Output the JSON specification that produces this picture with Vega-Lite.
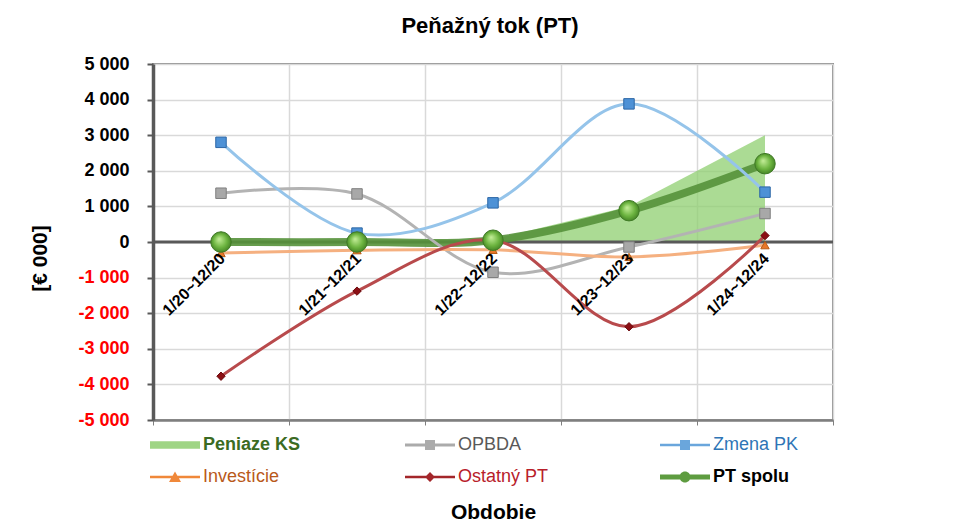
{
  "$schema": "https://vega.github.io/schema/vega-lite/v6.json",
  "autosize": {"type": "none"},
  "padding": {"left": 153, "top": 64, "right": 129, "bottom": 112},
  "width": 680,
  "height": 356,
  "config": {
    "font": "Liberation Sans",
    "view": {"stroke": "#8c8c8c", "strokeWidth": 2}
  },
  "title": {
    "text": "Peňažný tok (PT)",
    "fontSize": 22,
    "fontWeight": "bold",
    "color": "#000000",
    "anchor": "middle",
    "baseline": "middle",
    "offset": 7,
    "dx": -3
  },
  "datasets": {
    "cf": [
      {"period": "1/20~12/20", "series": "Peniaze KS", "value": 20},
      {"period": "1/21~12/21", "series": "Peniaze KS", "value": 20},
      {"period": "1/22~12/22", "series": "Peniaze KS", "value": 70},
      {"period": "1/23~12/23", "series": "Peniaze KS", "value": 1000},
      {"period": "1/24~12/24", "series": "Peniaze KS", "value": 3000},
      {"period": "1/20~12/20", "series": "OPBDA", "value": 1370},
      {"period": "1/21~12/21", "series": "OPBDA", "value": 1350},
      {"period": "1/22~12/22", "series": "OPBDA", "value": -850},
      {"period": "1/23~12/23", "series": "OPBDA", "value": -140},
      {"period": "1/24~12/24", "series": "OPBDA", "value": 800},
      {"period": "1/20~12/20", "series": "Zmena PK", "value": 2800},
      {"period": "1/21~12/21", "series": "Zmena PK", "value": 250},
      {"period": "1/22~12/22", "series": "Zmena PK", "value": 1100},
      {"period": "1/23~12/23", "series": "Zmena PK", "value": 3880},
      {"period": "1/24~12/24", "series": "Zmena PK", "value": 1400},
      {"period": "1/20~12/20", "series": "Investície", "value": -310},
      {"period": "1/21~12/21", "series": "Investície", "value": -230},
      {"period": "1/22~12/22", "series": "Investície", "value": -220},
      {"period": "1/23~12/23", "series": "Investície", "value": -420},
      {"period": "1/24~12/24", "series": "Investície", "value": -90},
      {"period": "1/20~12/20", "series": "Ostatný PT", "value": -3770},
      {"period": "1/21~12/21", "series": "Ostatný PT", "value": -1380},
      {"period": "1/22~12/22", "series": "Ostatný PT", "value": 50},
      {"period": "1/23~12/23", "series": "Ostatný PT", "value": -2380},
      {"period": "1/24~12/24", "series": "Ostatný PT", "value": 180},
      {"period": "1/20~12/20", "series": "PT spolu", "value": 0},
      {"period": "1/21~12/21", "series": "PT spolu", "value": 0},
      {"period": "1/22~12/22", "series": "PT spolu", "value": 50},
      {"period": "1/23~12/23", "series": "PT spolu", "value": 880},
      {"period": "1/24~12/24", "series": "PT spolu", "value": 2200}
    ],
    "zero": [{"z": 0}]
  },
  "data": {"name": "cf"},
  "encoding": {
    "x": {
      "field": "period",
      "type": "nominal",
      "sort": null,
      "scale": {"paddingInner": 0, "paddingOuter": 0},
      "axis": {
        "labels": false,
        "ticks": true,
        "tickBand": "extent",
        "tickSize": 5,
        "tickColor": "#7f7f7f",
        "grid": true,
        "gridColor": "#d9d9d9",
        "gridWidth": 1.5,
        "domainColor": "#7f7f7f",
        "domainWidth": 2.5,
        "title": "Obdobie",
        "titleFontSize": 21,
        "titleFontWeight": "bold",
        "titleColor": "#000000",
        "titleY": 92,
        "titleBaseline": "middle"
      }
    },
    "y": {
      "field": "value",
      "type": "quantitative",
      "scale": {"domain": [-5000, 5000], "nice": false, "zero": false},
      "axis": {
        "values": [-5000, -4000, -3000, -2000, -1000, 0, 1000, 2000, 3000, 4000, 5000],
        "labelExpr": "(datum.value < 0 ? '-' : '') + replace(format(abs(datum.value), ',d'), ',', ' ')",
        "labelFontSize": 18,
        "labelFontWeight": "bold",
        "labelColor": {"condition": {"test": "datum.value < 0", "value": "#ff0000"}, "value": "#000000"},
        "labelPadding": 18,
        "tickSize": 6,
        "tickWidth": 2,
        "tickColor": "#595959",
        "grid": true,
        "gridColor": "#d9d9d9",
        "gridWidth": 1.5,
        "domainColor": "#595959",
        "domainWidth": 3.5,
        "title": "[€ 000]",
        "titleFontSize": 21,
        "titleFontWeight": "bold",
        "titleColor": "#000000",
        "titleX": -113,
        "titleY": 194,
        "titleAlign": "center",
        "titleBaseline": "middle",
        "titleAngle": -90
      }
    }
  },
  "layer": [
    {
      "transform": [{"filter": "datum.series === 'Peniaze KS'"}],
      "mark": {"type": "area", "color": "#8fcf70", "opacity": 0.75}
    },
    {
      "data": {"name": "zero"},
      "mark": {"type": "rule", "color": "#595959", "strokeWidth": 3},
      "encoding": {"x": null, "y": {"field": "z", "type": "quantitative"}}
    },
    {
      "transform": [{"filter": "datum.series === 'PT spolu'"}],
      "mark": {"type": "line", "interpolate": "catmull-rom", "color": "#55913a", "strokeWidth": 8, "opacity": 0.9}
    },
    {
      "transform": [{"filter": "datum.series === 'OPBDA' || datum.series === 'Zmena PK' || datum.series === 'Investície' || datum.series === 'Ostatný PT'"}],
      "mark": {"type": "line", "interpolate": "catmull-rom", "strokeWidth": 3},
      "encoding": {
        "stroke": {
          "field": "series",
          "type": "nominal",
          "scale": {"domain": ["OPBDA", "Zmena PK", "Investície", "Ostatný PT"], "range": ["#b3b3b3", "#95c4ea", "#f5b080", "#b84a4c"]},
          "legend": null
        }
      }
    },
    {
      "transform": [{"filter": "datum.series === 'OPBDA'"}],
      "mark": {"type": "point", "shape": "square", "filled": true, "size": 110, "fill": "#a8a8a8", "stroke": "#7f7f7f", "strokeWidth": 1, "opacity": 1}
    },
    {
      "transform": [{"filter": "datum.series === 'Zmena PK'"}],
      "mark": {"type": "point", "shape": "square", "filled": true, "size": 110, "fill": "#4d91d6", "stroke": "#2d67a6", "strokeWidth": 1, "opacity": 1}
    },
    {
      "transform": [{"filter": "datum.series === 'Investície'"}],
      "mark": {"type": "point", "shape": "triangle-up", "filled": true, "size": 70, "fill": "#e8782a", "stroke": "#b65a14", "strokeWidth": 1, "opacity": 1}
    },
    {
      "transform": [{"filter": "datum.series === 'Ostatný PT'"}],
      "mark": {"type": "point", "shape": "diamond", "filled": true, "size": 70, "fill": "#8b0f14", "stroke": "#6a0a0d", "strokeWidth": 1, "opacity": 1}
    },
    {
      "transform": [{"filter": "datum.series === 'PT spolu'"}],
      "mark": {
        "type": "point",
        "shape": "circle",
        "filled": true,
        "size": 420,
        "opacity": 1,
        "fill": {"gradient": "radial", "x1": 0.4, "y1": 0.35, "r1": 0, "x2": 0.5, "y2": 0.5, "r2": 0.55, "stops": [{"offset": 0, "color": "#c6ef9a"}, {"offset": 0.6, "color": "#6cb43f"}, {"offset": 1, "color": "#3f7d22"}]},
        "stroke": "#3f7a25",
        "strokeWidth": 1
      }
    },
    {
      "transform": [{"filter": "datum.series === 'PT spolu'"}],
      "mark": {"type": "text", "angle": 315, "align": "right", "baseline": "top", "fontSize": 16, "fontWeight": "bold", "color": "#000000", "dx": -9, "dy": 3},
      "encoding": {
        "y": {"datum": 0},
        "text": {"field": "period"}
      }
    },
    {
      "transform": [{"filter": "datum.value > 999999"}],
      "mark": {"type": "point", "filled": true, "size": 400, "opacity": 1, "strokeWidth": 0},
      "encoding": {
        "color": {
          "field": "series",
          "type": "nominal",
          "scale": {
            "domain": ["Peniaze KS", "OPBDA", "Zmena PK", "Investície", "Ostatný PT", "PT spolu"],
            "range": ["#9fd585", "#ababab", "#6aa6dc", "#f0883a", "#a3262a", "#5e9c40"]
          },
          "legend": {
            "title": null,
            "orient": "none",
            "legendX": -3,
            "legendY": 371,
            "direction": "horizontal",
            "columns": 3,
            "gridAlign": "all",
            "columnPadding": 104,
            "rowPadding": 13,
            "symbolSize": 400,
            "symbolStrokeWidth": 0,
            "symbolOpacity": 1,
            "labelOffset": 33,
            "labelFontSize": 18,
            "labelLimit": 300,
            "labelColor": {"expr": "datum.value === 'Peniaze KS' ? '#3b6b22' : datum.value === 'OPBDA' ? '#595959' : datum.value === 'Zmena PK' ? '#2e75b6' : datum.value === 'Investície' ? '#b9591a' : datum.value === 'Ostatný PT' ? '#b8202a' : '#000000'"},
            "labelFontWeight": {"expr": "datum.value === 'Peniaze KS' || datum.value === 'PT spolu' ? 'bold' : 'normal'"}
          }
        },
        "shape": {
          "field": "series",
          "type": "nominal",
          "scale": {
            "domain": ["Peniaze KS", "OPBDA", "Zmena PK", "Investície", "Ostatný PT", "PT spolu"],
            "range": [
              "M-1,-0.38H4V0.38H-1Z",
              "M-1,-0.14H4V0.14H-1Z M1,-0.5H2V0.5H1Z",
              "M-1,-0.12H4V0.12H-1Z M1,-0.5H2V0.5H1Z",
              "M-1,-0.13H4V0.13H-1Z M1.5,-0.55L2.1,0.5H0.9Z",
              "M-1,-0.13H4V0.13H-1Z M1.5,-0.5L2,0L1.5,0.5L1,0Z",
              "M-1,-0.24H4V0.24H-1Z M2.05,0A0.55,0.55 0 1,1 0.95,0A0.55,0.55 0 1,1 2.05,0Z"
            ]
          },
          "legend": {
            "title": null,
            "orient": "none",
            "legendX": -3,
            "legendY": 371,
            "direction": "horizontal",
            "columns": 3,
            "gridAlign": "all",
            "columnPadding": 104,
            "rowPadding": 13,
            "symbolSize": 400,
            "symbolStrokeWidth": 0,
            "symbolOpacity": 1,
            "labelOffset": 33,
            "labelFontSize": 18,
            "labelLimit": 300,
            "labelColor": {"expr": "datum.value === 'Peniaze KS' ? '#3b6b22' : datum.value === 'OPBDA' ? '#595959' : datum.value === 'Zmena PK' ? '#2e75b6' : datum.value === 'Investície' ? '#b9591a' : datum.value === 'Ostatný PT' ? '#b8202a' : '#000000'"},
            "labelFontWeight": {"expr": "datum.value === 'Peniaze KS' || datum.value === 'PT spolu' ? 'bold' : 'normal'"}
          }
        }
      }
    }
  ]
}
